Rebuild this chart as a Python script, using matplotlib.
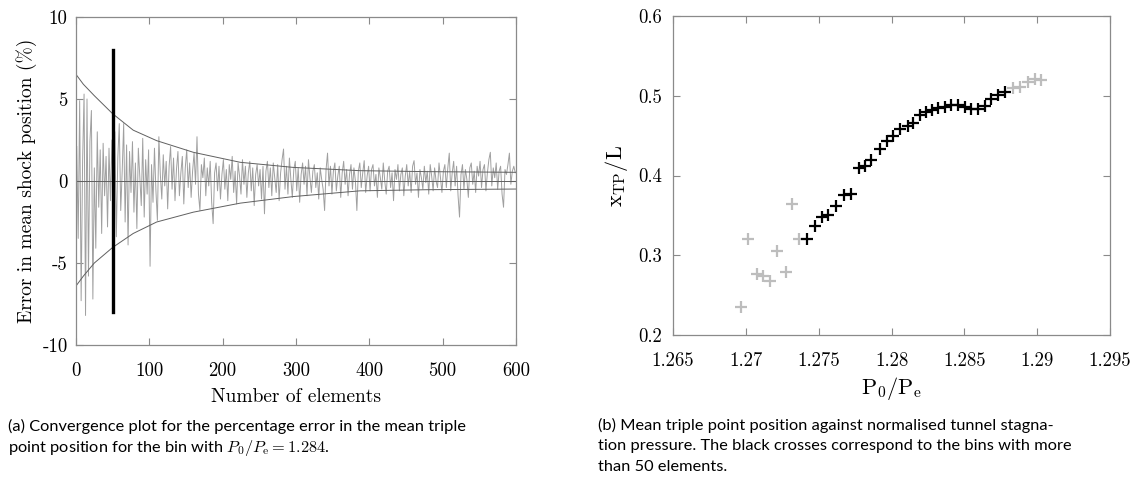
import matplotlib
matplotlib.use("Agg")
import matplotlib.pyplot as plt

plt.rcParams['mathtext.fontset'] = 'cm'
plt.rcParams['axes.unicode_minus'] = False

# --- panel (a): convergence of the error, one value every 2 elements ---
n_elem = list(range(1, 600, 2))
err = [
    2.1, -3.5, 4.9, -7.3, 1.2, 5.3, -8.2, 5.0, -5.8, 2.4, 4.3, -7.2, 0.8, -4.1, 3.0, -1.6, 1.9, -3.2, 2.3, -0.9, 1.5, -2.8, 2.0, -1.2, 2.5,
    -2.2, 3.0, -3.4, 1.4, 3.5, -1.8, 0.6, 3.5, -2.5, 2.2, -3.9, 1.8, -0.7, 2.4, -1.9, 1.1, -2.9, 2.0, 0.3, -1.5, 2.6, -2.2, 1.3, -0.8, 1.9,
    -5.2, 1.0, -1.3, 2.0, -0.6, -2.4, 2.7, 0.4, -1.1, 1.6, -0.3, 1.2, -1.7, 0.9, 2.1, -0.5, 1.4, -1.2, 0.7, 1.8, -0.9, 0.5, 1.5, -1.4, 0.8,
    1.9, -0.4, 1.1, -1.0, 0.6, 1.7, -0.2, 2.7, -0.8, -1.8, 1.0, 0.2, 1.4, -0.9, 0.8, -0.3, 1.2, -1.3, -2.6, 0.5, 1.1, -0.6, 0.9, -1.1, 0.4,
    1.3, -0.5, 0.7, -1.2, 1.0, 0.1, 1.5, -0.7, 0.6, -1.4, 1.1, 0.3, -0.8, 1.3, -0.2, 0.9, -1.0, 0.5, 1.2, -0.6, 0.8, -1.5, 0.4, 1.0, -0.3,
    0.7, -1.1, 0.9, -2.0, 0.6, 1.2, -0.4, 0.8, -0.9, 1.1, 0.2, -0.7, 1.0, -1.2, 0.5, 1.3, 1.95, -0.5, 0.9, -0.8, 1.4, 0.1, -1.0, 0.7, 1.2,
    -0.6, 0.8, -1.3, 0.4, 1.1, -0.2, 0.9, -0.9, 1.3, 0.2, -0.7, 0.6, 1.0, -0.4, 0.5, -1.1, 0.8, 0.1, -0.5, -1.8, 0.7, 1.7, -0.3, 0.9, -0.8,
    0.6, 1.1, -0.6, 0.3, 0.9, -1.0, 0.5, 1.2, -0.2, 0.7, -0.9, 0.4, 1.0, -0.5, 0.8, 0.0, -1.8, 0.6, 1.1, -0.4, 0.5, 1.24, -0.7, 0.3, 0.9,
    -0.6, 0.7, 1.0, -0.3, 0.4, -1.0, 0.8, 0.2, -0.5, 1.1, 0.0, -0.8, 0.6, 0.9, -0.4, 0.5, -1.2, 0.7, 0.1, 1.0, -0.6, 0.4, 0.8, -0.9, 0.3,
    1.0, -0.3, 0.6, -0.7, 0.9, 1.24, -0.2, 0.5, -1.0, 0.7, 0.2, -0.5, 0.9, -0.1, 0.6, -0.8, 1.0, 0.3, -0.6, 0.8, 0.0, -0.4, 1.1, 0.2, -0.7,
    0.6, 1.0, -0.4, 0.8, 1.7, -0.6, 0.5, 1.2, -0.3, 0.9, -0.9, -2.2, 0.4, 1.0, -0.5, 0.7, 0.1, -1.0, 0.8, 1.1, -0.2, 0.6, -0.7, 0.9, 0.3,
    1.2, -0.4, 0.7, 1.0, -0.6, 0.5, 1.3, 1.75, -0.3, 0.8, 0.2, 1.1, -0.5, 0.6, 0.9, -0.8, -1.6, 0.7, 0.4, 1.0, 1.7, -0.2, 0.6, 0.9, 0.5,
]

env_n = [0, 10, 25, 50, 78, 110, 160, 224, 296, 387, 480, 600]
env_up = [6.5, 5.9, 5.2, 4.1, 3.1, 2.46, 1.75, 1.14, 0.83, 0.63, 0.57, 0.53]
env_lo = [-6.4, -5.8, -5.0, -4.05, -3.2, -2.5, -1.9, -1.35, -0.95, -0.6, -0.53, -0.49]

cut_n = 50
cut_lim = [-8, 8]

# --- panel (b): mean triple point position ---
p_grey = [1.26966, 1.27018, 1.27075, 1.27116, 1.27166, 1.27216, 1.27276, 1.27315, 1.27363,
          1.28833, 1.28879, 1.28936, 1.28982, 1.29027]
x_grey = [0.235, 0.320, 0.276, 0.274, 0.268, 0.305, 0.279, 0.364, 0.320,
          0.510, 0.511, 0.517, 0.521, 0.520]

p_black = [1.27418, 1.27475, 1.27525, 1.27566, 1.27616, 1.27673, 1.27719, 1.27774, 1.27817,
           1.27856, 1.27920, 1.27966, 1.28007, 1.28057, 1.28110, 1.28150, 1.28194, 1.28240,
           1.28280, 1.28320, 1.28365, 1.28411, 1.28456, 1.28502, 1.28548, 1.28593, 1.28639,
           1.28685, 1.28730, 1.28776]
x_black = [0.320, 0.337, 0.348, 0.351, 0.362, 0.376, 0.377, 0.409, 0.412,
           0.419, 0.433, 0.443, 0.450, 0.458, 0.462, 0.466, 0.476, 0.479,
           0.482, 0.485, 0.486, 0.488, 0.489, 0.486, 0.484, 0.484, 0.487,
           0.496, 0.501, 0.505]

W, H = 1147, 480
fig = plt.figure(figsize=(W / 100, H / 100), dpi=100)

def px_axes(x0, y0, x1, y1):
    return fig.add_axes([x0 / W, 1 - y1 / H, (x1 - x0) / W, (y1 - y0) / H])

spine_col = '#8a8a8a'
cm = 'cmr10'

def style(ax, ypad):
    for s in ax.spines.values():
        s.set_color(spine_col)
        s.set_linewidth(0.9)
    ax.tick_params(direction='in', top=True, right=True, length=5,
                   color=spine_col, labelsize=13.5)
    ax.tick_params(axis='x', pad=12)
    ax.tick_params(axis='y', pad=ypad)
    for lab in ax.get_xticklabels() + ax.get_yticklabels():
        lab.set_fontfamily(cm)

# panel (a)
ax1 = px_axes(76, 17, 516, 345)
ax1.plot(n_elem, err, color='#a0a0a0', lw=0.7)
ax1.plot(env_n, env_up, color='#606060', lw=0.7)
ax1.plot(env_n, env_lo, color='#606060', lw=0.7)
ax1.axhline(0, color='#606060', lw=0.7)
ax1.plot([cut_n, cut_n], cut_lim, color='black', lw=2.4)
ax1.set_xlim(0, 600)
ax1.set_ylim(-10, 10)
ax1.set_xticks(range(0, 601, 100))
ax1.set_yticks([-10, -5, 0, 5, 10])
ax1.set_yticklabels(['-10', '-5', '0', '5', '10'])
style(ax1, 6)
ax1.set_xlabel('Number of elements', fontfamily=cm, fontsize=14, labelpad=6)
ax1.set_ylabel('Error in mean shock position (%)', fontfamily=cm, fontsize=14, labelpad=4)

# panel (b)
ax2 = px_axes(673, 16, 1110, 335)
ax2.plot(p_grey, x_grey, ls='none', marker='+', ms=8, mew=1.6, color='#bdbdbd')
ax2.plot(p_black, x_black, ls='none', marker='+', ms=8, mew=1.6, color='black')
ax2.set_xlim(1.265, 1.295)
ax2.set_ylim(0.2, 0.6)
ax2.set_xticks([1.265, 1.27, 1.275, 1.28, 1.285, 1.29, 1.295])
ax2.set_xticklabels(['1.265', '1.27', '1.275', '1.28', '1.285', '1.29', '1.295'])
ax2.set_yticks([0.2, 0.3, 0.4, 0.5, 0.6])
ax2.set_yticklabels(['0.2', '0.3', '0.4', '0.5', '0.6'])
style(ax2, 8)
ax2.set_xlabel(r'$\mathrm{P_0/P_e}$', fontsize=16, labelpad=4)
ax2.set_ylabel(r'$\mathrm{x_{TP}/L}$', fontsize=16, labelpad=6)

# captions
cap_font = ['Liberation Sans Narrow', 'Lato', 'DejaVu Sans']
cap = dict(fontsize=11.8, family=cap_font, va='center', ha='left')
fig.text(8 / W, 1 - 426 / H, '(a) Convergence plot for the percentage error in the mean triple', **cap)
fig.text(8 / W, 1 - 448 / H, r'point position for the bin with $P_0/P_\mathrm{e} = 1.284$.', **cap)
fig.text(598 / W, 1 - 425 / H, '(b) Mean triple point position against normalised tunnel stagna-', **cap)
fig.text(598 / W, 1 - 446 / H, 'tion pressure. The black crosses correspond to the bins with more', **cap)
fig.text(598 / W, 1 - 467 / H, 'than 50 elements.', **cap)

fig.savefig('out.png', dpi=100)
